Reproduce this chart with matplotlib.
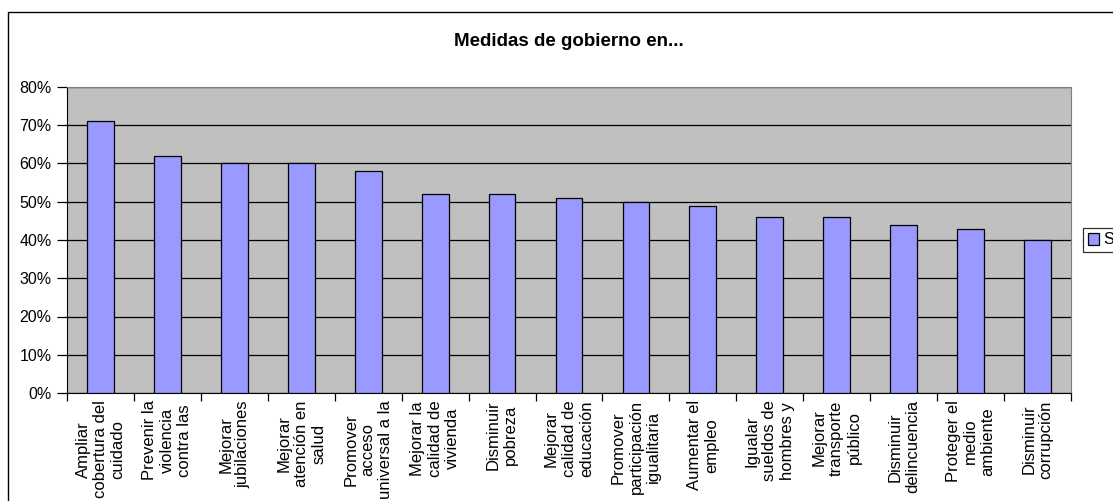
import matplotlib.pyplot as plt
from matplotlib.patches import Rectangle
from matplotlib.ticker import FixedLocator, NullFormatter, FuncFormatter
import numpy as np

plt.rcParams['font.family'] = ['Liberation Sans', 'DejaVu Sans']

# Datos del gráfico
categorias = [
    "Ampliar\ncobertura del\ncuidado",
    "Prevenir la\nviolencia\ncontra las",
    "Mejorar\njubilaciones",
    "Mejorar\natención en\nsalud",
    "Promover\nacceso\nuniversal a la",
    "Mejorar la\ncalidad de\nvivienda",
    "Disminuir\npobreza",
    "Mejorar\ncalidad de\neducación",
    "Promover\nparticipación\nigualitaria",
    "Aumentar el\nempleo",
    "Igualar\nsueldos de\nhombres y",
    "Mejorar\ntransporte\npúblico",
    "Disminuir\ndelincuencia",
    "Proteger el\nmedio\nambiente",
    "Disminuir\ncorrupción",
]
valores_si = [0.71, 0.62, 0.60, 0.60, 0.58, 0.52, 0.52, 0.51, 0.50, 0.49,
              0.46, 0.46, 0.44, 0.43, 0.40]
ticks_y = [0, 0.1, 0.2, 0.3, 0.4, 0.5, 0.6, 0.7, 0.8]
titulo = "Medidas de gobierno en..."
serie = "Si"

fig = plt.figure(figsize=(11.13, 5.01), dpi=100)
fig.patch.set_facecolor('white')

# marco exterior del área del gráfico
fig.patches.append(Rectangle((8 / 1113, -0.1), 1.2, 0.1 + (1 - 12 / 501),
                             transform=fig.transFigure, fill=False,
                             edgecolor='black', linewidth=1.0))

ax = fig.add_axes([67 / 1113, 1 - 393 / 501, 1004 / 1113, 306 / 501])
ax.set_facecolor('#C0C0C0')

x = np.arange(len(categorias))
ax.bar(x, valores_si, width=0.4, color='#9999FF', edgecolor='black',
       linewidth=0.9, zorder=3, label=serie)

ax.set_xlim(-0.5, len(categorias) - 0.5)
ax.set_ylim(0, 0.8)
ax.set_yticks(ticks_y)
ax.yaxis.set_major_formatter(FuncFormatter(lambda v, p: f"{v:.0%}"))
ax.yaxis.grid(True, color='black', linewidth=0.9, zorder=1)
ax.set_axisbelow(True)

# ticks del eje x entre categorías, etiquetas como texto
ax.xaxis.set_major_locator(FixedLocator(np.arange(-0.5, len(categorias), 1.0)))
ax.xaxis.set_major_formatter(NullFormatter())
ax.tick_params(axis='x', length=6, width=0.9, color='black')
ax.tick_params(axis='y', length=7, width=0.9, pad=4, labelsize=11.5)

for i, etiqueta in enumerate(categorias):
    ax.text(i, -0.024, etiqueta, rotation=90, ha='center', va='top',
            multialignment='center', fontsize=12, linespacing=1.2,
            transform=ax.get_xaxis_transform(), clip_on=False)

for lado in ['top', 'right']:
    ax.spines[lado].set_color('#808080')
for lado in ['left', 'bottom']:
    ax.spines[lado].set_color('black')

fig.text(569 / 1113, 1 - 42 / 501, titulo, ha='center', va='center',
         fontsize=13.5, fontweight='bold')

leg = ax.legend(loc='center left', bbox_to_anchor=(1083 / 1113, 1 - 240 / 501),
                bbox_transform=fig.transFigure, frameon=True, fancybox=False,
                edgecolor='black', fontsize=11.5, handlelength=0.7,
                handleheight=0.7, handletextpad=0.3, borderpad=0.3,
                borderaxespad=0)
leg.get_frame().set_linewidth(0.9)

fig.savefig('out.png', dpi=100)
